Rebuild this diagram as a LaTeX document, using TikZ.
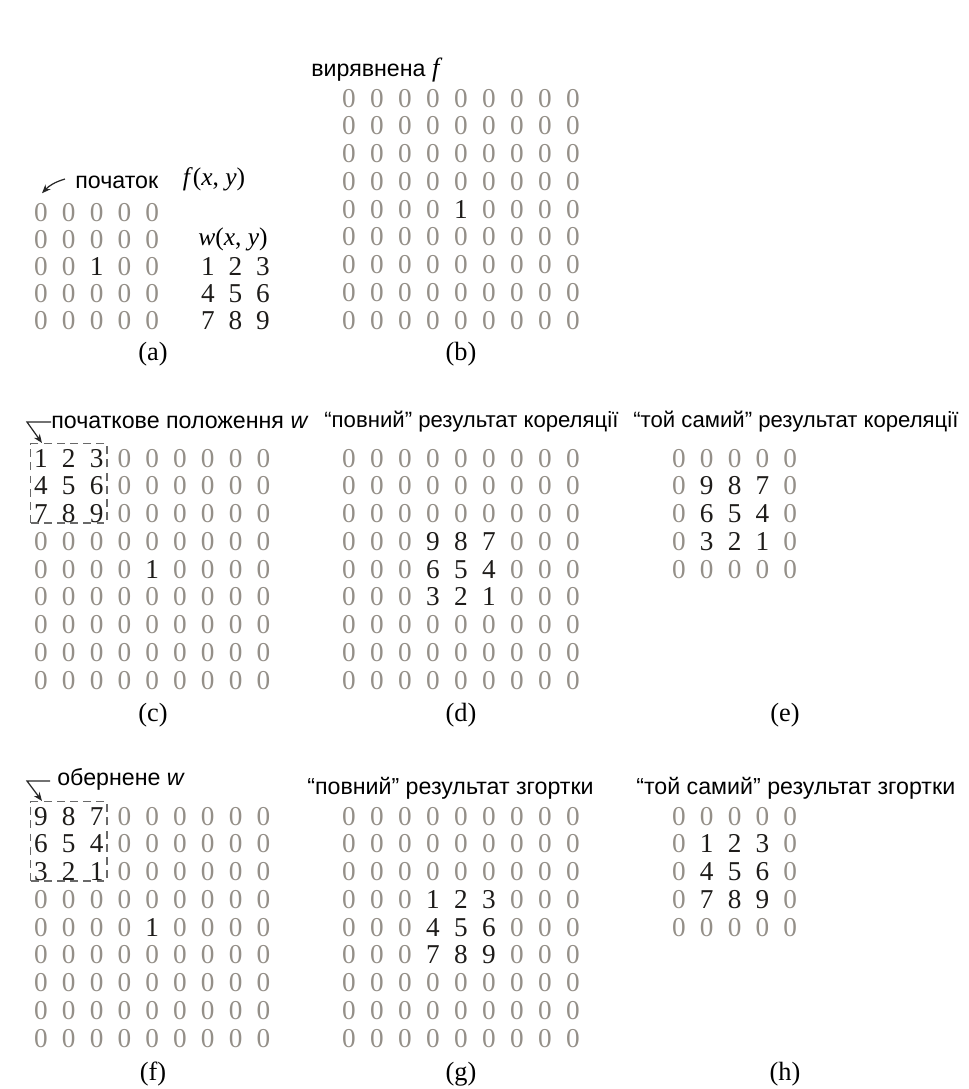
\documentclass[tikz,border=0pt]{standalone}
\usepackage{fontspec}
\setmainfont{Liberation Serif}
\setsansfont{Liberation Sans}
\usepackage{xcolor}
\usetikzlibrary{positioning,arrows.meta,fit,calc}
\definecolor{zerogray}{RGB}{148,143,136}
\definecolor{numblack}{RGB}{30,28,26}
\definecolor{boxgray}{RGB}{105,105,105}

\begin{document}
\begin{tikzpicture}[
  x=0.02cm, y=-0.02cm,
  digit/.style={inner sep=0pt, text height=10.5pt, text depth=0.2pt,
                font=\fontsize{15.5}{15.5}\selectfont},
  zero/.style={digit, text=zerogray},
  num/.style={digit, text=numblack},
  cell/.code={\ifnum#1=0 \pgfkeysalso{zero}\else\pgfkeysalso{num}\fi},
  title/.style={anchor=west, inner sep=0pt, font=\sffamily\fontsize{13.2}{15}\selectfont},
  corrtitle/.style={title, font=\sffamily\fontsize{12.6}{15}\selectfont},
  sub/.style={inner sep=0pt, font=\fontsize{15}{15}\selectfont},
  fxy/.style={inner sep=0pt, font=\fontsize{14.5}{15}\selectfont},
  wbox/.style={draw=boxgray, line width=0.8pt, dash pattern=on 4.5pt off 3pt,
               inner xsep=1.8pt, inner ysep=1.2pt, yshift=1.4pt},
  arr/.style={-{Stealth[length=5pt,width=4pt]}, line width=0.7pt, black!85}
]
  \useasboundingbox (0,0) rectangle (968,1089);

  % (a) f and w
  \foreach \row [count=\r] in {{0,0,0,0,0},{0,0,0,0,0},{0,0,1,0,0},{0,0,0,0,0},{0,0,0,0,0}}
    \foreach \v [count=\c] in \row
      \node[cell=\v] (a-\r-\c) at ({41+27.8*(\c-1)},{212+27*(\r-1)}) {\v};
  \foreach \row [count=\r] in {{1,2,3},{4,5,6},{7,8,9}}
    \foreach \v [count=\c] in \row
      \node[num] (w-\r-\c) at ({208+27.5*(\c-1)},{266+27*(\r-1)}) {\v};
  \node[fxy] (fxy) at (214,179) {\textit{f}(\textit{x}, \textit{y})};
  \node[fxy] (wxy) at (233,239) {\textit{w}(\textit{x}, \textit{y})};
  \node[title] (pochatok) at (75,182) {початок};
  \coordinate (astart) at ($(pochatok.west)+(-10,-3)$);
  \coordinate (atip) at ($(a-1-1.north)+(1,-9)$);
  \draw[arr] (astart) to[bend right=15] (atip);
  \node[sub] (suba) at (153,354) {(a)};

  % (b) padded f
  \node[title] (vyr) at (311,70) {вирявнена\ {\rmfamily\itshape\fontsize{15}{15}\selectfont f}};
  \foreach \row [count=\r] in {{0,0,0,0,0,0,0,0,0},{0,0,0,0,0,0,0,0,0},{0,0,0,0,0,0,0,0,0},
      {0,0,0,0,0,0,0,0,0},{0,0,0,0,1,0,0,0,0},{0,0,0,0,0,0,0,0,0},
      {0,0,0,0,0,0,0,0,0},{0,0,0,0,0,0,0,0,0},{0,0,0,0,0,0,0,0,0}}
    \foreach \v [count=\c] in \row
      \node[cell=\v] (b-\r-\c) at ({349+28*(\c-1)},{98+27.75*(\r-1)}) {\v};
  \node[sub] (subb) at (461,354) {(b)};

  % (c) initial position of w
  \node[title] (clbl) at (51,422) {початкове положення \textit{w}};
  \foreach \row [count=\r] in {{1,2,3,0,0,0,0,0,0},{4,5,6,0,0,0,0,0,0},{7,8,9,0,0,0,0,0,0},
      {0,0,0,0,0,0,0,0,0},{0,0,0,0,1,0,0,0,0},{0,0,0,0,0,0,0,0,0},
      {0,0,0,0,0,0,0,0,0},{0,0,0,0,0,0,0,0,0},{0,0,0,0,0,0,0,0,0}}
    \foreach \v [count=\c] in \row
      \node[cell=\v] (c-\r-\c) at ({41+27.8*(\c-1)},{458+27.75*(\r-1)}) {\v};
  \node[wbox, fit=(c-1-1)(c-3-3)] (cbox) {};
  \coordinate (ctip) at ($(cbox.north west)+(12,0)$);
  \draw[arr] (clbl.west) -- ++(-24,0) -- (ctip);
  \node[sub] (subc) at (153,715) {(c)};

  % (d) full correlation
  \node[corrtitle] (dlbl) at (324,422) {“повний” результат кореляції};
  \foreach \row [count=\r] in {{0,0,0,0,0,0,0,0,0},{0,0,0,0,0,0,0,0,0},{0,0,0,0,0,0,0,0,0},
      {0,0,0,9,8,7,0,0,0},{0,0,0,6,5,4,0,0,0},{0,0,0,3,2,1,0,0,0},
      {0,0,0,0,0,0,0,0,0},{0,0,0,0,0,0,0,0,0},{0,0,0,0,0,0,0,0,0}}
    \foreach \v [count=\c] in \row
      \node[cell=\v] (d-\r-\c) at ({349+28*(\c-1)},{458+27.75*(\r-1)}) {\v};
  \node[sub] (subd) at (461,715) {(d)};

  % (e) same correlation
  \node[corrtitle] (elbl) at (633,422) {“той самий” результат кореляції};
  \foreach \row [count=\r] in {{0,0,0,0,0},{0,9,8,7,0},{0,6,5,4,0},{0,3,2,1,0},{0,0,0,0,0}}
    \foreach \v [count=\c] in \row
      \node[cell=\v] (e-\r-\c) at ({679+27.8*(\c-1)},{458+27.75*(\r-1)}) {\v};
  \node[sub] (sube) at (785,715) {(e)};

  % (f) rotated w
  \node[title] (flbl) at (57,779) {обернене \textit{w}};
  \foreach \row [count=\r] in {{9,8,7,0,0,0,0,0,0},{6,5,4,0,0,0,0,0,0},{3,2,1,0,0,0,0,0,0},
      {0,0,0,0,0,0,0,0,0},{0,0,0,0,1,0,0,0,0},{0,0,0,0,0,0,0,0,0},
      {0,0,0,0,0,0,0,0,0},{0,0,0,0,0,0,0,0,0},{0,0,0,0,0,0,0,0,0}}
    \foreach \v [count=\c] in \row
      \node[cell=\v] (f-\r-\c) at ({41+27.8*(\c-1)},{816+27.75*(\r-1)}) {\v};
  \node[wbox, fit=(f-1-1)(f-3-3)] (fbox) {};
  \coordinate (fbend) at ($(flbl.west)+(-30,2)$);
  \coordinate (ftip) at ($(fbox.north west)+(12,0)$);
  \draw[arr] ($(flbl.west)+(-7,2)$) -- (fbend) -- (ftip);
  \node[sub] (subf) at (153,1074) {(f)};

  % (g) full convolution
  \node[title] (glbl) at (307,788) {“повний” результат згортки};
  \foreach \row [count=\r] in {{0,0,0,0,0,0,0,0,0},{0,0,0,0,0,0,0,0,0},{0,0,0,0,0,0,0,0,0},
      {0,0,0,1,2,3,0,0,0},{0,0,0,4,5,6,0,0,0},{0,0,0,7,8,9,0,0,0},
      {0,0,0,0,0,0,0,0,0},{0,0,0,0,0,0,0,0,0},{0,0,0,0,0,0,0,0,0}}
    \foreach \v [count=\c] in \row
      \node[cell=\v] (g-\r-\c) at ({349+28*(\c-1)},{816+27.75*(\r-1)}) {\v};
  \node[sub] (subg) at (461,1074) {(g)};

  % (h) same convolution
  \node[title] (hlbl) at (636,788) {“той самий” результат згортки};
  \foreach \row [count=\r] in {{0,0,0,0,0},{0,1,2,3,0},{0,4,5,6,0},{0,7,8,9,0},{0,0,0,0,0}}
    \foreach \v [count=\c] in \row
      \node[cell=\v] (h-\r-\c) at ({679+27.8*(\c-1)},{816+27.75*(\r-1)}) {\v};
  \node[sub] (subh) at (785,1074) {(h)};
\end{tikzpicture}
\end{document}
